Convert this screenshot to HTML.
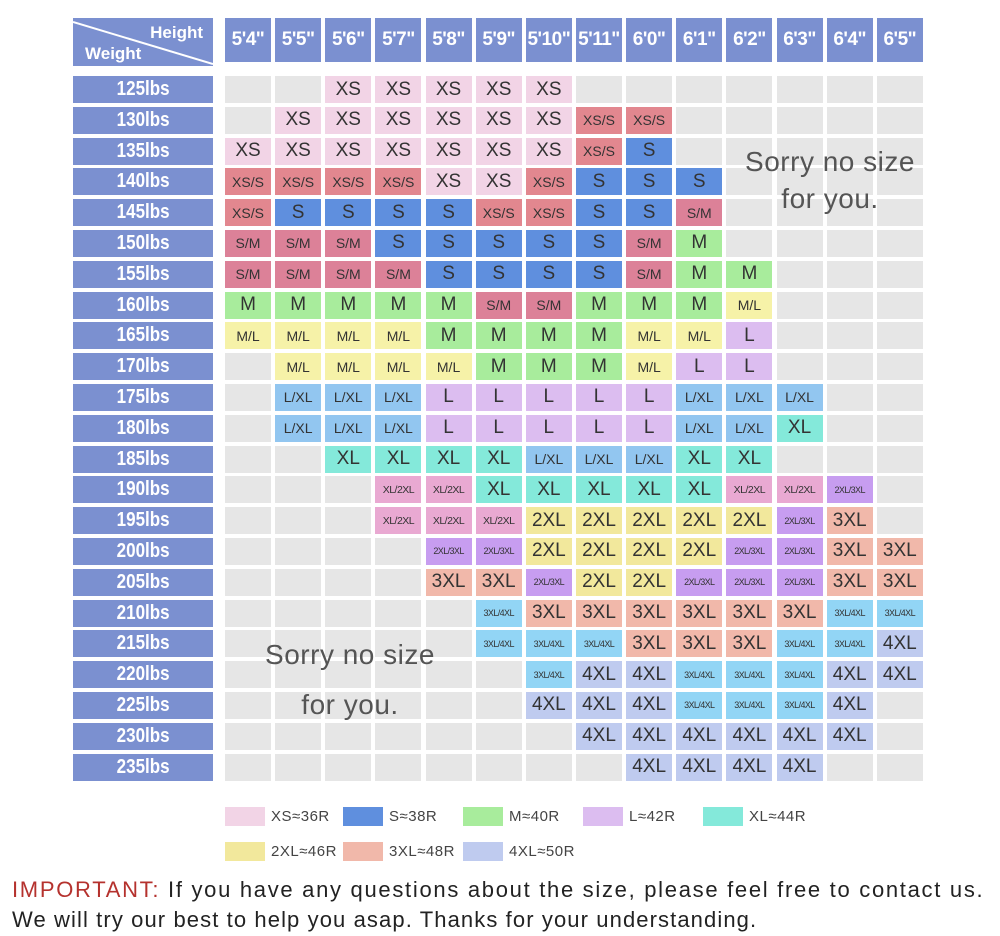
<!DOCTYPE html>
<html><head><meta charset="utf-8"><style>
body{margin:0;width:1000px;height:936px;background:#fff;position:relative;overflow:hidden;font-family:"Liberation Sans",sans-serif}
.g{position:absolute;left:225px;top:76px;display:grid;grid-template-columns:repeat(14,46px);column-gap:4.15px;grid-auto-rows:27px;row-gap:3.8px}
.g i{font-style:normal;display:flex;align-items:center;justify-content:center;color:#333;font-size:19px;background:#e6e6e6;white-space:nowrap;overflow:hidden}
.s{font-size:14px!important}.t{font-size:10.5px!important;letter-spacing:-.5px}.u{font-size:9px!important;letter-spacing:-.6px}
.a{background:#f2d4e6!important}.b{background:#e2878f!important}.c{background:#5f8fde!important}.d{background:#dc8198!important}
.e{background:#a8ec9c!important}.f{background:#f6f2a8!important}.g2{background:#dcbdf0!important}.h{background:#92c6f0!important}
.i{background:#84e9da!important}.j{background:#e9a9d2!important}.k{background:#c79df0!important}.l{background:#f2e89c!important}
.m{background:#f1b8aa!important}.n{background:#92d5f5!important}.o{background:#bfcbef!important}
.hd{position:absolute;top:18px;left:225px;display:grid;grid-template-columns:repeat(14,46px);column-gap:4.15px}
.hd div{height:44px;background:#7b90d0;color:#fff;font-weight:bold;font-size:19px;display:flex;align-items:center;justify-content:center;letter-spacing:-.5px}
.rl{position:absolute;left:73px;top:76px;display:grid;grid-auto-rows:27px;row-gap:3.8px}
.rl div{width:140px;background:#7b90d0;color:#fff;font-weight:bold;font-size:20px;display:flex;align-items:center;justify-content:center}
.rl div span{display:inline-block;transform:scaleX(.85)}
.corner{position:absolute;left:73px;top:18px;width:140px;height:48px;background:#7b90d0;color:#fff;font-weight:bold;font-size:17px;overflow:hidden}
.sorry{position:absolute;color:#555;font-size:28px;text-align:center;line-height:37px;letter-spacing:.5px}
.lg{position:absolute;font-size:15px;color:#444;display:flex;align-items:center;letter-spacing:.5px}
.lg b{display:inline-block;width:40px;height:19px;margin-right:6px}
.imp{position:absolute;left:12px;font-size:22px;color:#222;white-space:nowrap}
</style></head><body>
<div class="corner"><svg width="140" height="48" style="position:absolute;left:0;top:0"><line x1="0" y1="4" x2="140" y2="46" stroke="#fff" stroke-width="2"/></svg><span style="position:absolute;right:10px;top:5px">Height</span><span style="position:absolute;left:12px;top:26px">Weight</span></div>
<div class="hd"><div>5'4"</div><div>5'5"</div><div>5'6"</div><div>5'7"</div><div>5'8"</div><div>5'9"</div><div>5'10"</div><div>5'11"</div><div>6'0"</div><div>6'1"</div><div>6'2"</div><div>6'3"</div><div>6'4"</div><div>6'5"</div></div>
<div class="rl"><div><span>125lbs</span></div><div><span>130lbs</span></div><div><span>135lbs</span></div><div><span>140lbs</span></div><div><span>145lbs</span></div><div><span>150lbs</span></div><div><span>155lbs</span></div><div><span>160lbs</span></div><div><span>165lbs</span></div><div><span>170lbs</span></div><div><span>175lbs</span></div><div><span>180lbs</span></div><div><span>185lbs</span></div><div><span>190lbs</span></div><div><span>195lbs</span></div><div><span>200lbs</span></div><div><span>205lbs</span></div><div><span>210lbs</span></div><div><span>215lbs</span></div><div><span>220lbs</span></div><div><span>225lbs</span></div><div><span>230lbs</span></div><div><span>235lbs</span></div></div>
<div class="g">
<i></i><i></i><i class=a>XS</i><i class=a>XS</i><i class=a>XS</i><i class=a>XS</i><i class=a>XS</i><i></i><i></i><i></i><i></i><i></i><i></i><i></i>
<i></i><i class=a>XS</i><i class=a>XS</i><i class=a>XS</i><i class=a>XS</i><i class=a>XS</i><i class=a>XS</i><i class="b s">XS/S</i><i class="b s">XS/S</i><i></i><i></i><i></i><i></i><i></i>
<i class=a>XS</i><i class=a>XS</i><i class=a>XS</i><i class=a>XS</i><i class=a>XS</i><i class=a>XS</i><i class=a>XS</i><i class="b s">XS/S</i><i class=c>S</i><i></i><i></i><i></i><i></i><i></i>
<i class="b s">XS/S</i><i class="b s">XS/S</i><i class="b s">XS/S</i><i class="b s">XS/S</i><i class=a>XS</i><i class=a>XS</i><i class="b s">XS/S</i><i class=c>S</i><i class=c>S</i><i class=c>S</i><i></i><i></i><i></i><i></i>
<i class="b s">XS/S</i><i class=c>S</i><i class=c>S</i><i class=c>S</i><i class=c>S</i><i class="b s">XS/S</i><i class="b s">XS/S</i><i class=c>S</i><i class=c>S</i><i class="d s">S/M</i><i></i><i></i><i></i><i></i>
<i class="d s">S/M</i><i class="d s">S/M</i><i class="d s">S/M</i><i class=c>S</i><i class=c>S</i><i class=c>S</i><i class=c>S</i><i class=c>S</i><i class="d s">S/M</i><i class=e>M</i><i></i><i></i><i></i><i></i>
<i class="d s">S/M</i><i class="d s">S/M</i><i class="d s">S/M</i><i class="d s">S/M</i><i class=c>S</i><i class=c>S</i><i class=c>S</i><i class=c>S</i><i class="d s">S/M</i><i class=e>M</i><i class=e>M</i><i></i><i></i><i></i>
<i class=e>M</i><i class=e>M</i><i class=e>M</i><i class=e>M</i><i class=e>M</i><i class="d s">S/M</i><i class="d s">S/M</i><i class=e>M</i><i class=e>M</i><i class=e>M</i><i class="f s">M/L</i><i></i><i></i><i></i>
<i class="f s">M/L</i><i class="f s">M/L</i><i class="f s">M/L</i><i class="f s">M/L</i><i class=e>M</i><i class=e>M</i><i class=e>M</i><i class=e>M</i><i class="f s">M/L</i><i class="f s">M/L</i><i class=g2>L</i><i></i><i></i><i></i>
<i></i><i class="f s">M/L</i><i class="f s">M/L</i><i class="f s">M/L</i><i class="f s">M/L</i><i class=e>M</i><i class=e>M</i><i class=e>M</i><i class="f s">M/L</i><i class=g2>L</i><i class=g2>L</i><i></i><i></i><i></i>
<i></i><i class="h s">L/XL</i><i class="h s">L/XL</i><i class="h s">L/XL</i><i class=g2>L</i><i class=g2>L</i><i class=g2>L</i><i class=g2>L</i><i class=g2>L</i><i class="h s">L/XL</i><i class="h s">L/XL</i><i class="h s">L/XL</i><i></i><i></i>
<i></i><i class="h s">L/XL</i><i class="h s">L/XL</i><i class="h s">L/XL</i><i class=g2>L</i><i class=g2>L</i><i class=g2>L</i><i class=g2>L</i><i class=g2>L</i><i class="h s">L/XL</i><i class="h s">L/XL</i><i class=i>XL</i><i></i><i></i>
<i></i><i></i><i class=i>XL</i><i class=i>XL</i><i class=i>XL</i><i class=i>XL</i><i class="h s">L/XL</i><i class="h s">L/XL</i><i class="h s">L/XL</i><i class=i>XL</i><i class=i>XL</i><i></i><i></i><i></i>
<i></i><i></i><i></i><i class="j t">XL/2XL</i><i class="j t">XL/2XL</i><i class=i>XL</i><i class=i>XL</i><i class=i>XL</i><i class=i>XL</i><i class=i>XL</i><i class="j t">XL/2XL</i><i class="j t">XL/2XL</i><i class="k u">2XL/3XL</i><i></i>
<i></i><i></i><i></i><i class="j t">XL/2XL</i><i class="j t">XL/2XL</i><i class="j t">XL/2XL</i><i class=l>2XL</i><i class=l>2XL</i><i class=l>2XL</i><i class=l>2XL</i><i class=l>2XL</i><i class="k u">2XL/3XL</i><i class=m>3XL</i><i></i>
<i></i><i></i><i></i><i></i><i class="k u">2XL/3XL</i><i class="k u">2XL/3XL</i><i class=l>2XL</i><i class=l>2XL</i><i class=l>2XL</i><i class=l>2XL</i><i class="k u">2XL/3XL</i><i class="k u">2XL/3XL</i><i class=m>3XL</i><i class=m>3XL</i>
<i></i><i></i><i></i><i></i><i class=m>3XL</i><i class=m>3XL</i><i class="k u">2XL/3XL</i><i class=l>2XL</i><i class=l>2XL</i><i class="k u">2XL/3XL</i><i class="k u">2XL/3XL</i><i class="k u">2XL/3XL</i><i class=m>3XL</i><i class=m>3XL</i>
<i></i><i></i><i></i><i></i><i></i><i class="n u">3XL/4XL</i><i class=m>3XL</i><i class=m>3XL</i><i class=m>3XL</i><i class=m>3XL</i><i class=m>3XL</i><i class=m>3XL</i><i class="n u">3XL/4XL</i><i class="n u">3XL/4XL</i>
<i></i><i></i><i></i><i></i><i></i><i class="n u">3XL/4XL</i><i class="n u">3XL/4XL</i><i class="n u">3XL/4XL</i><i class=m>3XL</i><i class=m>3XL</i><i class=m>3XL</i><i class="n u">3XL/4XL</i><i class="n u">3XL/4XL</i><i class=o>4XL</i>
<i></i><i></i><i></i><i></i><i></i><i></i><i class="n u">3XL/4XL</i><i class=o>4XL</i><i class=o>4XL</i><i class="n u">3XL/4XL</i><i class="n u">3XL/4XL</i><i class="n u">3XL/4XL</i><i class=o>4XL</i><i class=o>4XL</i>
<i></i><i></i><i></i><i></i><i></i><i></i><i class=o>4XL</i><i class=o>4XL</i><i class=o>4XL</i><i class="n u">3XL/4XL</i><i class="n u">3XL/4XL</i><i class="n u">3XL/4XL</i><i class=o>4XL</i><i></i>
<i></i><i></i><i></i><i></i><i></i><i></i><i></i><i class=o>4XL</i><i class=o>4XL</i><i class=o>4XL</i><i class=o>4XL</i><i class=o>4XL</i><i class=o>4XL</i><i></i>
<i></i><i></i><i></i><i></i><i></i><i></i><i></i><i></i><i class=o>4XL</i><i class=o>4XL</i><i class=o>4XL</i><i class=o>4XL</i><i></i><i></i>
</div>
<div class="sorry" style="left:720px;top:143px;width:220px">Sorry no size<br>for you.</div>
<div class="sorry" style="left:235px;top:630px;width:230px;line-height:50px">Sorry no size<br>for you.</div>
<div class="lg" style="left:225px;top:807px"><b class=a></b>XS≈36R</div>
<div class="lg" style="left:343px;top:807px"><b class=c></b>S≈38R</div>
<div class="lg" style="left:463px;top:807px"><b class=e></b>M≈40R</div>
<div class="lg" style="left:583px;top:807px"><b class=g2></b>L≈42R</div>
<div class="lg" style="left:703px;top:807px"><b class=i></b>XL≈44R</div>
<div class="lg" style="left:225px;top:842px"><b class=l></b>2XL≈46R</div>
<div class="lg" style="left:343px;top:842px"><b class=m></b>3XL≈48R</div>
<div class="lg" style="left:463px;top:842px"><b class=o></b>4XL≈50R</div>
<div class="imp" style="top:877px;letter-spacing:1.7px"><span style="color:#b5322e">IMPORTANT:</span> If you have any questions about the size, please feel free to contact us.</div>
<div class="imp" style="top:907px;letter-spacing:1.1px">We will try our best to help you asap. Thanks for your understanding.</div>
</body></html>
